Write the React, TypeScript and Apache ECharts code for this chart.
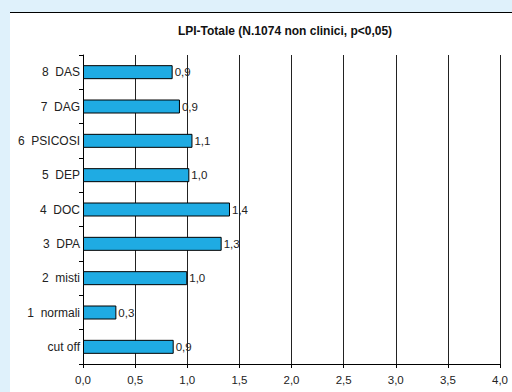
import React, { useEffect, useRef } from "react";
import * as echarts from "echarts";

// Categories, listed from the bottom of the chart upwards
const categories = [
  "cut off",
  "1  normali",
  "2  misti",
  "3  DPA",
  "4  DOC",
  "5  DEP",
  "6  PSICOSI",
  "7  DAG",
  "8  DAS",
];

// LPI-Totale mean scores per group
const values = [0.87, 0.32, 1.0, 1.33, 1.41, 1.02, 1.05, 0.93, 0.86];

const xMin = 0;
const xMax = 4;
const xInterval = 0.5;

const fmt = (v: number) => v.toFixed(1).replace(".", ",");

export default function App() {
  const ref = useRef<HTMLDivElement>(null);

  useEffect(() => {
    if (!ref.current) return;
    const chart = echarts.init(ref.current, undefined, { renderer: "svg" });
    const font = "'Liberation Sans', Arial, sans-serif";
    chart.setOption({
      animation: false,
      backgroundColor: "#dff1fb",
      textStyle: { fontFamily: font },
      graphic: [
        {
          type: "rect",
          z: -10,
          shape: { x: 10, y: 12, width: 502, height: 380 },
          style: { fill: "#ffffff" },
        },
        {
          type: "line",
          z: -9,
          shape: { x1: 10, y1: 12.5, x2: 512, y2: 12.5 },
          style: { stroke: "#000000", lineWidth: 1 },
        },
      ],
      title: {
        text: "LPI-Totale (N.1074 non clinici, p<0,05)",
        left: 280,
        textAlign: "center",
        top: 20,
        textStyle: {
          fontFamily: font,
          fontSize: 12,
          fontWeight: "bold",
          color: "#111",
        },
      },
      grid: { left: 83, right: 12, top: 55, bottom: 28, containLabel: false },
      xAxis: {
        type: "value",
        min: xMin,
        max: xMax,
        interval: xInterval,
        axisLine: { show: true, lineStyle: { color: "#000", width: 1 } },
        axisTick: { show: true, length: 4, lineStyle: { color: "#000" } },
        axisLabel: {
          formatter: (v: number) => fmt(v),
          fontFamily: font,
          fontSize: 11.5,
          color: "#222",
          margin: 10,
        },
        splitLine: { show: true, lineStyle: { color: "#222", width: 1 } },
      },
      yAxis: {
        type: "category",
        data: categories,
        axisLine: { show: true, lineStyle: { color: "#000", width: 1 } },
        axisTick: { show: true, length: 4, lineStyle: { color: "#000" } },
        axisLabel: {
          fontFamily: font,
          fontSize: 12,
          color: "#222",
          margin: 3,
        },
        splitLine: { show: false },
      },
      series: [
        {
          type: "bar",
          data: values,
          barWidth: 14,
          itemStyle: {
            color: "#1fabe3",
            borderColor: "#000",
            borderWidth: 1,
          },
          label: {
            show: true,
            position: "right",
            distance: 2,
            formatter: (p: any) => fmt(p.value),
            fontFamily: font,
            fontSize: 11.5,
            color: "#222",
          },
        },
      ],
    });
    return () => chart.dispose();
  }, []);

  return (
    <div
      ref={ref}
      style={{ position: "fixed", left: 0, top: 0, width: 512, height: 392 }}
    />
  );
}
